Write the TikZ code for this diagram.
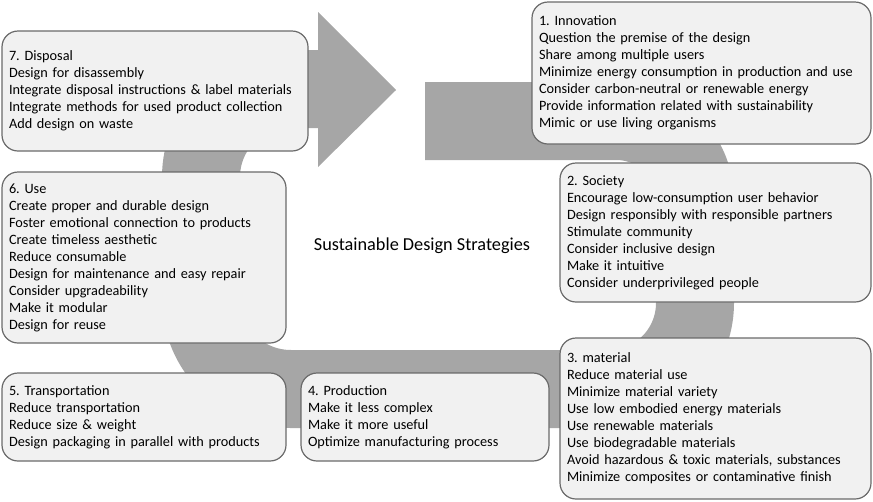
\documentclass[tikz,border=0pt]{standalone}
\usepackage{fontspec}
\setmainfont{Carlito}
\frenchspacing
\definecolor{ringgray}{HTML}{A6A6A6}
\definecolor{boxfill}{HTML}{F1F1F1}
\definecolor{boxline}{HTML}{6A6A6A}
\tikzset{
  ring/.style={draw=ringgray, line width=58.5pt},
  arrowhead/.style={fill=ringgray, draw=none},
  card/.style={draw=boxline, fill=boxfill, line width=0.9pt, rounded corners=12pt,
    inner xsep=5.25pt, inner ysep=0pt, align=left, font=\fontsize{10.7}{12.75}\selectfont},
  title/.style={font=\fontsize{13.7}{16}\selectfont, inner sep=0pt}
}
\begin{document}
\begin{tikzpicture}[x=0.75pt,y=-0.75pt]
\useasboundingbox (0,0) rectangle (873,501);
% gray circular band
\draw[ring] (425,121) [rounded corners=59pt] -- (695,121) [rounded corners=64.5pt] -- (695,389) [rounded corners=67.5pt] -- (201,389) [rounded corners=66pt] -- (201,89) -- (318.5,89);
\coordinate (headtop) at (318,12);
\coordinate (headtip) at (396,90);
\coordinate (headbot) at (318,167);
\path[arrowhead] (headtop) -- (headtip) -- (headbot) -- cycle;
% boxes
\node[card, minimum width=229.5pt, minimum height=90pt, text width=219pt] (b7) at (155,91) {7. Disposal\\Design for disassembly\\Integrate disposal instructions \& label materials\\Integrate methods for used product collection\\Add design on waste};
\node[card, minimum width=254.25pt, minimum height=106.5pt, text width=243.75pt] (b1) at (701.5,73) {1. Innovation\\Question the premise of the design\\Share among multiple users\\Minimize energy consumption in production and use\\Consider carbon-neutral or renewable energy\\Provide information related with sustainability\\Mimic or use living organisms};
\node[card, minimum width=233.25pt, minimum height=104.25pt, text width=222.75pt] (b2) at (715.5,232.5) {2. Society\\Encourage low-consumption user behavior\\Design responsibly with responsible partners\\Stimulate community\\Consider inclusive design\\Make it intuitive\\Consider underprivileged people};
\node[card, minimum width=213pt, minimum height=128.25pt, text width=202.5pt] (b6) at (144,257.5) {6. Use\\Create proper and durable design\\Foster emotional connection to products\\Create timeless aesthetic\\Reduce consumable\\Design for maintenance and easy repair\\Consider upgradeability\\Make it modular\\Design for reuse};
\node[card, minimum width=213pt, minimum height=66pt, text width=202.5pt] (b5) at (144,417) {5. Transportation\\Reduce transportation\\Reduce size \& weight\\Design packaging in parallel with products};
\node[card, minimum width=186pt, minimum height=66pt, text width=175.5pt] (b4) at (425,417) {4. Production\\Make it less complex\\Make it more useful\\Optimize manufacturing process};
\node[card, minimum width=233.25pt, minimum height=120.75pt, text width=222.75pt] (b3) at (715.5,418.5) {3. material\\Reduce material use\\Minimize material variety\\Use low embodied energy materials\\Use renewable materials\\Use biodegradable materials\\Avoid hazardous \& toxic materials, substances\\Minimize composites or contaminative finish};
\node[title] (t) at (422,246) {Sustainable Design Strategies};
\end{tikzpicture}
\end{document}
